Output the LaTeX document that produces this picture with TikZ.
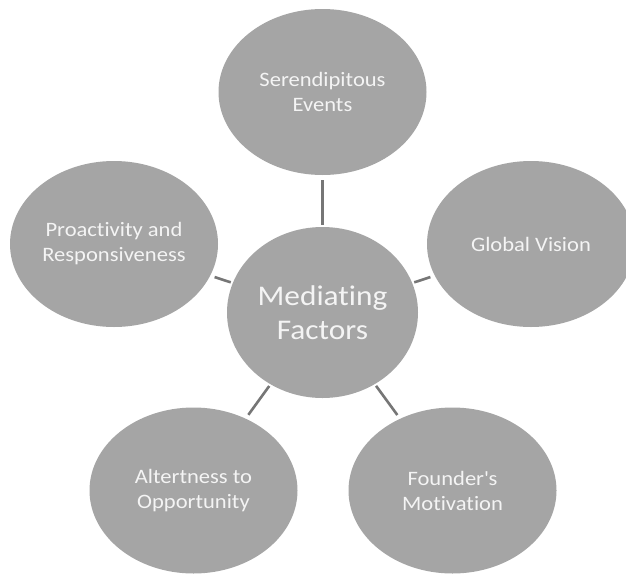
\documentclass[tikz,border=0pt]{standalone}
\usepackage{fontspec}
\setmainfont{Carlito}[FakeStretch=1.1,Ligatures={NoCommon}]
\usetikzlibrary{shapes.geometric}
\definecolor{bubble}{HTML}{A5A5A5}
\definecolor{linkgray}{HTML}{767676}
\definecolor{txt}{HTML}{F4F4F4}
\tikzset{
  outer/.style={ellipse, fill=bubble, inner sep=0pt, minimum width=208pt, minimum height=166pt,
    text=txt, align=center, font=\fontsize{20.5}{25}\selectfont},
  hub/.style={ellipse, fill=bubble, inner sep=0pt, minimum width=191pt, minimum height=171pt,
    text=txt, align=center, font=\fontsize{28.5}{34}\selectfont},
  link/.style={draw=linkgray, line width=2.6pt, shorten <=2pt, shorten >=4.5pt}
}
\begin{document}
\begin{tikzpicture}[x=1pt,y=-1pt]
\useasboundingbox (0,0) rectangle (626,573);
\clip (0,0) rectangle (626,573);
\fill[white] (0,0) rectangle (626,573);
\node[hub] (c) at (322.5,312.5) {Mediating\\Factors};
\node[outer] (t) at (322.5,92) {Serendipitous\\Events};
\node[outer] (l) at (114,244) {Proactivity and\\Responsiveness};
\node[outer] (r) at (531,244) {Global Vision};
\node[outer] (bl) at (193.5,490.5) {Altertness to\\Opportunity};
\node[outer] (br) at (452.5,490.5) {Founder\textquotesingle s\\Motivation};
\draw[link] (c) -- (t);
\draw[link] (c) -- (l);
\draw[link] (c) -- (r);
\draw[link] (c) -- (bl);
\draw[link] (c) -- (br);
\end{tikzpicture}
\end{document}
